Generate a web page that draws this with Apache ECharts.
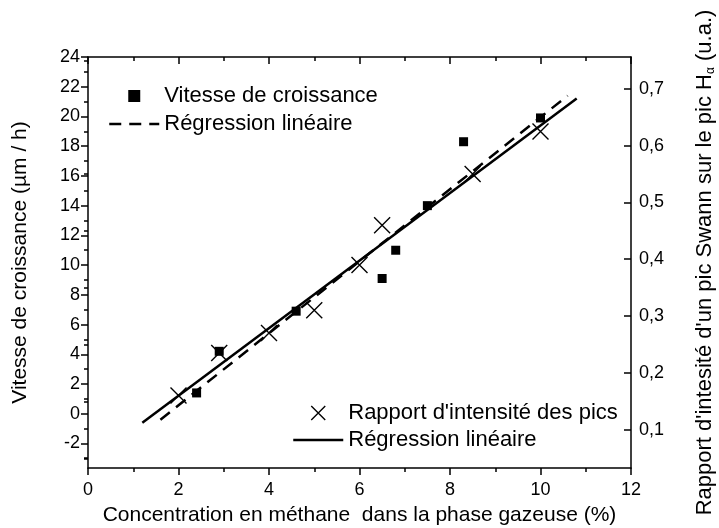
<!DOCTYPE html>
<html>
<head>
<meta charset="utf-8">
<script src="https://cdn.jsdelivr.net/npm/echarts@6/dist/echarts.min.js"></script>
<style>html,body{margin:0;padding:0;background:#fff;}#c{width:719px;height:528px;}</style>
</head>
<body>
<div id="c"></div>
<script>
// Data
var growthX = [2.4, 2.9, 4.6, 6.5, 6.8, 7.5, 8.3, 10.0];
var growthY = [1.4, 4.2, 6.9, 9.1, 11.0, 14.0, 18.3, 19.9];
var growthFitX = [1.6, 10.6];
var growthFitY = [-0.4, 21.4];
var ratioX = [2.0, 2.9, 4.0, 5.0, 6.0, 6.5, 8.5, 10.0];
var ratioY = [0.16, 0.235, 0.27, 0.31, 0.39, 0.46, 0.55, 0.625];
var ratioFitX = [1.2, 10.8];
var ratioFitY = [0.112, 0.683];
var leftTicks = [-2, 0, 2, 4, 6, 8, 10, 12, 14, 16, 18, 20, 22, 24];
var leftMinor = [-3, -1, 1, 3, 5, 7, 9, 11, 13, 15, 17, 19, 21, 23];
var rightTicks = [0.1, 0.2, 0.3, 0.4, 0.5, 0.6, 0.7];
var rightMinor = [0.05, 0.15, 0.25, 0.35, 0.45, 0.55, 0.65, 0.75];
var legendLabels = {
  growth: 'Vitesse de croissance',
  growthFit: 'Régression linéaire',
  ratio: "Rapport d'intensité des pics",
  ratioFit: 'Régression linéaire'
};

function pairs(xs, ys) { return xs.map(function (x, i) { return [x, ys[i]]; }); }

var FONT = 'Liberation Sans, Arial, sans-serif';
var black = '#000';
var axisLine = { show: true, onZero: false, lineStyle: { color: black, width: 1.5 } };
var hiddenSymbol = { color: 'transparent', borderColor: 'transparent', borderWidth: 0, opacity: 0 };

var chart = echarts.init(document.getElementById('c'), null, { renderer: 'canvas' });
chart.setOption({
  backgroundColor: '#fff',
  animation: false,
  textStyle: { fontFamily: FONT, color: black },
  grid: { left: 88, right: 88, top: 57, bottom: 60, containLabel: false, outerBoundsMode: 'none' },
  legend: [
    {
      left: 103, top: 80, orient: 'vertical', itemWidth: 50, itemHeight: 12, itemGap: 6,
      textStyle: { fontFamily: FONT, fontSize: 22, color: black },
      formatter: function (n) { return legendLabels[n]; },
      data: [
        { name: 'growth', icon: 'path://M0,0h10v10h-10z', itemStyle: { color: black, opacity: 1 } },
        { name: 'growthFit', itemStyle: hiddenSymbol, lineStyle: { color: black, width: 2.5, type: [12, 8], opacity: 1 } }
      ]
    },
    {
      left: 287, top: 397, orient: 'vertical', itemWidth: 50, itemHeight: 14, itemGap: 5,
      textStyle: { fontFamily: FONT, fontSize: 22, color: black },
      formatter: function (n) { return legendLabels[n]; },
      data: [
        { name: 'ratio', icon: 'path://M0,0L10,10M10,0L0,10', itemStyle: { color: 'transparent', borderColor: black, borderWidth: 1.4, opacity: 1 } },
        { name: 'ratioFit', itemStyle: hiddenSymbol, lineStyle: { color: black, width: 2.5, type: 'solid', opacity: 1 } }
      ]
    }
  ],
  xAxis: [
    {
      type: 'value', position: 'bottom', min: 0, max: 12, interval: 2,
      name: 'Concentration en méthane  dans la phase gazeuse (%)',
      nameLocation: 'middle', nameGap: 37,
      nameTextStyle: { fontFamily: FONT, fontSize: 21, color: black },
      axisLine: axisLine,
      axisTick: { show: true, inside: false, length: 7, lineStyle: { color: black, width: 1.5 } },
      minorTick: { show: true, splitNumber: 2, length: 4, lineStyle: { color: black, width: 1.5 } },
      axisLabel: { fontFamily: FONT, fontSize: 18, color: black, margin: 13 },
      splitLine: { show: false }
    },
    {
      type: 'value', position: 'top', min: 0, max: 12, interval: 2,
      axisLine: axisLine,
      axisTick: { show: true, inside: true, length: 7, lineStyle: { color: black, width: 1.5 } },
      minorTick: { show: true, splitNumber: 2, length: 4, lineStyle: { color: black, width: 1.5 } },
      axisLabel: { show: false },
      splitLine: { show: false }
    }
  ],
  yAxis: [
    {
      type: 'value', position: 'left', min: -3.65, max: 24,
      name: 'Vitesse de croissance (µm / h)',
      nameLocation: 'middle', nameGap: 57,
      nameTextStyle: { fontFamily: FONT, fontSize: 21, color: black },
      axisLine: axisLine,
      axisTick: { show: true, inside: false, length: 7, customValues: leftTicks, lineStyle: { color: black, width: 1.5 } },
      axisLabel: { fontFamily: FONT, fontSize: 18, color: black, margin: 8, customValues: leftTicks },
      splitLine: { show: false }
    },
    {
      type: 'value', position: 'left', min: -3.65, max: 24,
      axisLine: { show: false },
      axisTick: { show: true, inside: false, length: 4, customValues: leftMinor, lineStyle: { color: black, width: 1.5 } },
      axisLabel: { show: false, customValues: leftMinor },
      splitLine: { show: false }
    },
    {
      type: 'value', position: 'right', min: 0.0325, max: 0.756,
      name: "Rapport d'intesité d'un pic Swann sur le pic H{sub|α} (u.a.)",
      nameLocation: 'middle', nameGap: 62, nameRotate: 90,
      nameTextStyle: { fontFamily: FONT, fontSize: 22, color: black,
        rich: { sub: { fontFamily: FONT, fontSize: 12, color: black, padding: [12, 0, 0, 0] } } },
      axisLine: axisLine,
      axisTick: { show: true, inside: true, length: 7, customValues: rightTicks, lineStyle: { color: black, width: 1.5 } },
      axisLabel: { fontFamily: FONT, fontSize: 18, color: black, margin: 8, customValues: rightTicks,
        formatter: function (v) { return v.toFixed(1).replace('.', ','); } },
      splitLine: { show: false }
    },
    {
      type: 'value', position: 'right', min: 0.0325, max: 0.756,
      axisLine: { show: false },
      axisTick: { show: true, inside: true, length: 4, customValues: rightMinor, lineStyle: { color: black, width: 1.5 } },
      axisLabel: { show: false, customValues: rightMinor },
      splitLine: { show: false }
    }
  ],
  series: [
    {
      name: 'growthFit', type: 'line', xAxisIndex: 0, yAxisIndex: 0,
      data: pairs(growthFitX, growthFitY), symbol: 'none', showSymbol: false,
      lineStyle: { color: black, width: 2.5, type: [12, 8] }, itemStyle: { color: black }
    },
    {
      name: 'ratioFit', type: 'line', xAxisIndex: 0, yAxisIndex: 2,
      data: pairs(ratioFitX, ratioFitY), symbol: 'none', showSymbol: false,
      lineStyle: { color: black, width: 2.5 }, itemStyle: { color: black }
    },
    {
      name: 'growth', type: 'scatter', xAxisIndex: 0, yAxisIndex: 0,
      data: pairs(growthX, growthY), symbol: 'rect', symbolSize: 9,
      itemStyle: { color: black, opacity: 1 }
    },
    {
      name: 'ratio', type: 'scatter', xAxisIndex: 0, yAxisIndex: 2,
      data: pairs(ratioX, ratioY), symbol: 'path://M0,0L10,10M10,0L0,10', symbolSize: 16,
      itemStyle: { color: 'transparent', borderColor: black, borderWidth: 1.4, opacity: 1 }
    }
  ]
});
</script>
</body>
</html>
